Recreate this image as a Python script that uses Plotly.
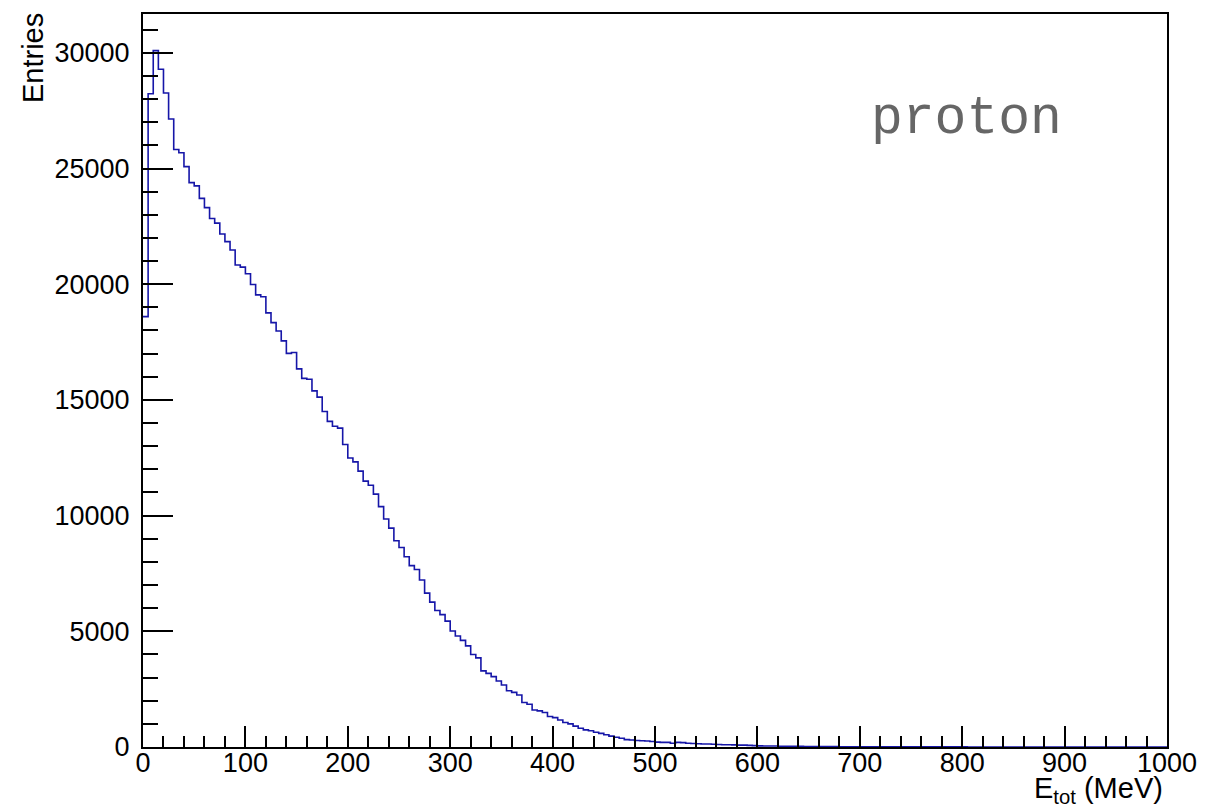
import plotly.graph_objects as go

# Histogram: E_tot (MeV), 200 bins of 5 MeV from 0 to 1000
bin_width = 5
n_bins = 200
counts = [
    18600, 28230, 30095, 29290, 28260, 27140, 25820, 25680, 25080, 24390,
    24250, 23710, 23310, 22840, 22640, 22170, 21840, 21480, 20830, 20740,
    20450, 19990, 19540, 19460, 18760, 18340, 17980, 17550, 17010, 17050,
    16340, 15930, 15890, 15390, 15120, 14500, 14070, 13860, 13780, 13070,
    12490, 12320, 11920, 11490, 11310, 10930, 10390, 9850, 9460, 8910,
    8620, 8220, 7840, 7670, 7220, 6650, 6260, 5900, 5720, 5440,
    5010, 4800, 4610, 4370, 4000, 3850, 3290, 3180, 3040, 2850,
    2680, 2430, 2360, 2250, 1920, 1850, 1600, 1560, 1490, 1320,
    1270, 1170, 1060, 1000, 900, 810, 740, 700, 640, 590,
    530, 470, 420, 380, 320, 300, 280, 270, 260, 240,
    210, 200, 200, 160, 200, 190, 160, 150, 140, 130,
    130, 120, 110, 100, 100, 90, 80, 80, 70, 60,
    50, 45, 40, 40, 35, 30, 30, 25, 25, 20,
    20, 18, 18, 16, 15, 15, 14, 13, 12, 12,
    11, 10, 10, 9, 9, 8, 8, 8, 7, 7,
    6, 6, 6, 5, 5, 5, 5, 4, 4, 4,
    4, 3, 3, 3, 3, 3, 2, 2, 2, 2,
    2, 2, 1, 1, 1, 1, 1, 1, 1, 1,
    1, 1, 0, 1, 0, 0, 1, 0, 0, 0,
    0, 0, 0, 0, 0, 0, 0, 0, 0, 0,
]
x_tick_vals = [0, 100, 200, 300, 400, 500, 600, 700, 800, 900, 1000]
x_tick_text = ["0", "100", "200", "300", "400", "500", "600", "700", "800", "900", "1000"]
y_tick_vals = [0, 5000, 10000, 15000, 20000, 25000, 30000]
y_tick_text = ["0", "5000", "10000", "15000", "20000", "25000", "30000"]
label_text = "proton"

edges = [i * bin_width for i in range(n_bins + 1)]
xs = edges
ys = counts + [counts[-1]]

fig = go.Figure()
fig.add_trace(go.Scatter(
    x=xs, y=ys, mode="lines", line=dict(shape="hv", color="#1616a8", width=1.6),
    hoverinfo="skip", showlegend=False,
))

y_max = 31677
font_tick = dict(family="Liberation Sans, Arial, Helvetica, sans-serif", size=27, color="black")
font_title = dict(family="Liberation Sans, Arial, Helvetica, sans-serif", size=29, color="black")

# page has an 8px body margin; plot frame at page x 143..1167, y 12..747
fig.update_layout(
    width=1203, height=801,
    margin=dict(l=135, r=44, t=4, b=62),
    paper_bgcolor="white", plot_bgcolor="white",
    font=font_tick,
    xaxis=dict(
        range=[0, 1000], tickvals=x_tick_vals, ticktext=x_tick_text, ticks="inside", ticklen=21, tickwidth=1.6,
        tickcolor="black", showline=True, linecolor="black", linewidth=2, mirror=True,
        showgrid=False, zeroline=False, tickfont=font_tick, ticklabelstandoff=-9,
        minor=dict(dtick=20, tick0=0, ticks="inside", ticklen=11, tickwidth=1.6, tickcolor="black", showgrid=False),
    ),
    yaxis=dict(
        range=[0, y_max], tickvals=y_tick_vals, ticktext=y_tick_text, ticks="inside", ticklen=30, tickwidth=1.6,
        tickcolor="black", showline=True, linecolor="black", linewidth=2, mirror=True,
        showgrid=False, zeroline=False, tickfont=font_tick, ticklabelstandoff=6,
        minor=dict(dtick=1000, tick0=0, ticks="inside", ticklen=15, tickwidth=1.6, tickcolor="black", showgrid=False),
    ),
)

fig.add_annotation(
    text="Entries", textangle=-90, xref="paper", yref="paper",
    x=(25 - 135) / 1024, y=1.0 + 3 / 735, xanchor="center", yanchor="top",
    showarrow=False, font=font_title,
)
fig.add_annotation(
    text="E<sub>tot</sub> (MeV)", xref="paper", yref="paper",
    x=(1157 - 135) / 1024, y=(739 - 802) / 735, xanchor="right", yanchor="bottom",
    showarrow=False, font=font_title,
)
fig.add_annotation(
    text=label_text, xref="paper", yref="paper",
    x=(966 - 143) / 1024, y=(747 - 117) / 735, xanchor="center", yanchor="middle",
    showarrow=False, font=dict(family="Liberation Mono, Courier New, monospace", size=53, color="#666666"),
)

fig.write_html("out.html")
